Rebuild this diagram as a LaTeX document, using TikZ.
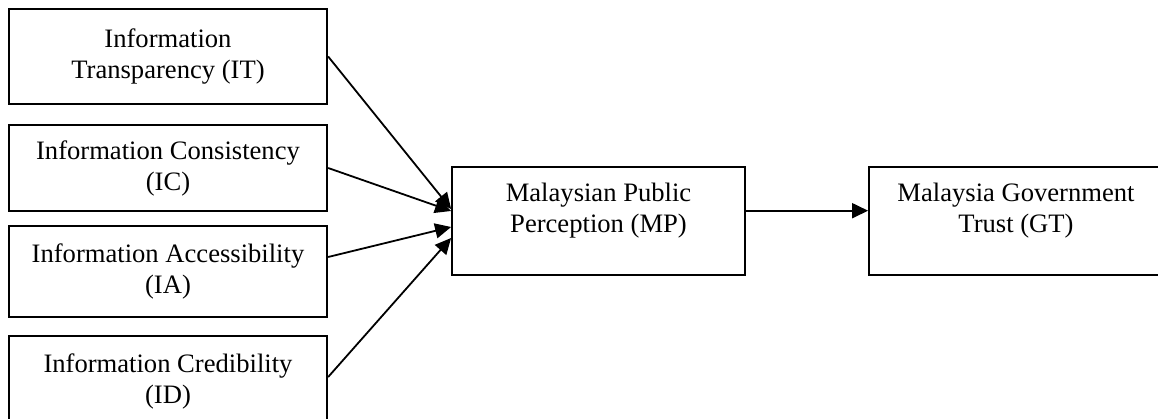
\documentclass[tikz,border=0pt]{standalone}
\usepackage{fontspec}
\setmainfont{Liberation Serif}
\usetikzlibrary{arrows.meta,calc}
\begin{document}
\begin{tikzpicture}[x=1pt,y=-1pt,
  box/.style={draw=black,line width=1.8pt,rectangle,inner sep=0pt,align=center,
    font=\fontsize{26.6}{31}\selectfont},
  lbl/.style={inner sep=0pt,align=center,font=\fontsize{26.6}{31}\selectfont},
  arr/.style={line width=1.8pt,-{Triangle[length=16pt,width=15pt]}}]
\useasboundingbox (0,0) rectangle (1158,419);
\fill[white] (0,0) rectangle (1158,419);
\node[box,minimum width=318.5pt,minimum height=95pt] (IT) at (168,56.5) {Information\\Transparency (IT)};
\node[box,minimum width=318.5pt,minimum height=86pt] (IC) at (168,168) {Information Consistency\\(IC)};
\node[box,minimum width=318.5pt,minimum height=91pt] (IA) at (168,271.5) {Information Accessibility\\(IA)};
\node[box,minimum width=318.5pt,minimum height=90pt] (ID) at (168,381) {Information Credibility\\(ID)};
\node[box,minimum width=293pt,minimum height=108pt] (MP) at (598.5,221) {};
\node[lbl,anchor=north] (MPt) at ($(MP.north)+(0,17)$) {Malaysian Public\\Perception (MP)};
\node[box,minimum width=294pt,minimum height=108pt] (GT) at (1016,221) {};
\node[lbl,anchor=north] (GTt) at ($(GT.north)+(0,17)$) {Malaysia Government\\Trust (GT)};
\draw[arr] (IT.east) -- ($(MP.west)+(0,-12)$);
\draw[arr] (IC.east) -- ($(MP.west)+(0,-10)$);
\draw[arr] ($(IA.east)+(0,-14.5)$) -- ($(MP.west)+(0,6)$);
\draw[arr] ($(ID.east)+(0,-4)$) -- ($(MP.west)+(0,17)$);
\draw[arr] ($(MP.east)+(0,-10.3)$) -- ($(GT.west)+(0,-10.3)$);
\end{tikzpicture}
\end{document}
